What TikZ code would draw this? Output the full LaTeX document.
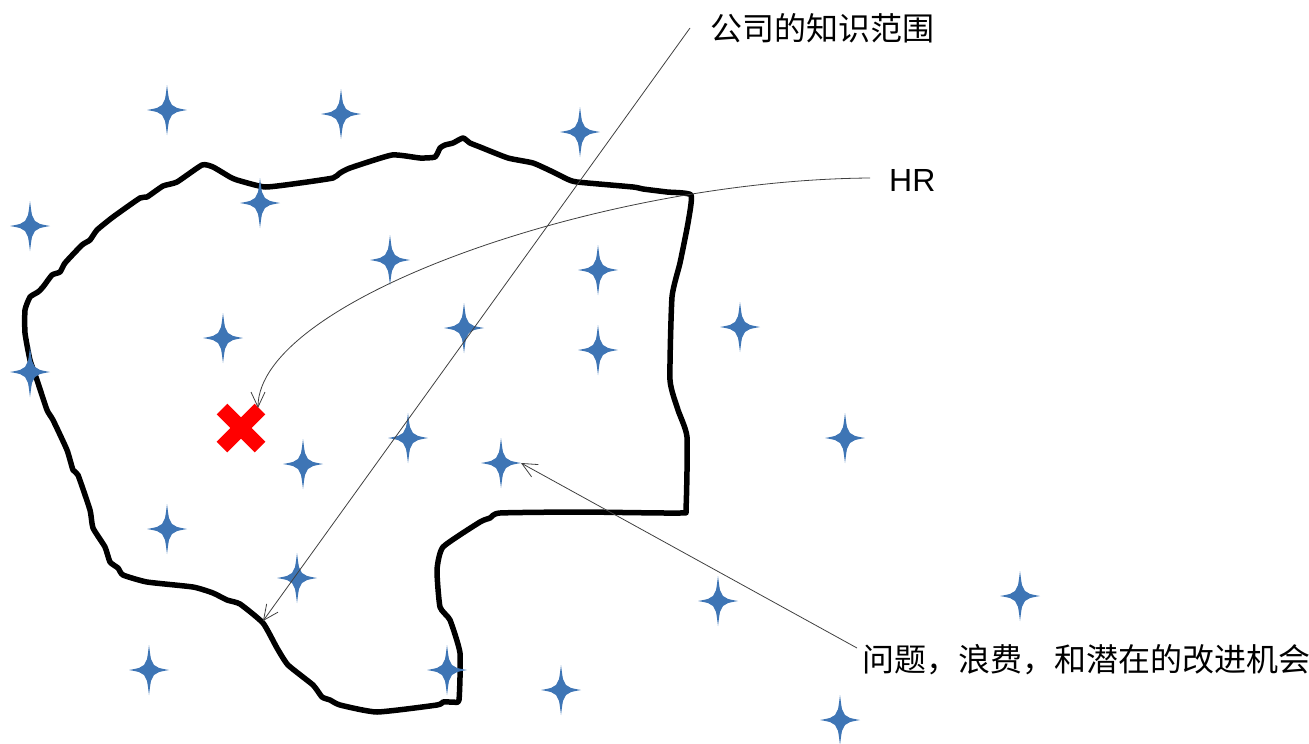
\documentclass[tikz,border=0pt]{standalone}
\usepackage{fontspec}
\setmainfont{Liberation Sans}
\newfontfamily\cjk{Noto Sans CJK SC}
\usetikzlibrary{arrows.meta}
\definecolor{starblue}{RGB}{62,117,181}

\begin{document}
\begin{tikzpicture}[x=1pt,y=-1pt,
  spark/.pic={\fill[starblue] (0,-25) .. controls (2,-9) .. (5,-5) .. controls (9,-2) .. (20,0)
     .. controls (9,2) .. (5,5) .. controls (2,9) .. (0,25) .. controls (-2,9) .. (-5,5)
     .. controls (-9,2) .. (-20,0) .. controls (-9,-2) .. (-5,-5) .. controls (-2,-9) .. cycle;},
  pointer/.style={draw=black!75,line width=0.8pt,-{Straight Barb[length=15pt,width=14pt,line width=0.8pt]}},
  note/.style={anchor=west,inner sep=0pt,font=\fontsize{32}{37}\selectfont}]
\useasboundingbox (0,0) rectangle (1309,744);

% knowledge area
\draw[line width=5.5pt,line join=round] plot[smooth cycle,tension=0.3] coordinates {
  (202,165) (213,167) (230,177) (237,180) (265,187) (300,183) (333,178) (340,173) (350,168)
  (392,155) (420,158) (435,157) (440,148) (445,145) (453,143) (463,138) (470,143) (480,147)
  (508,158) (533,163) (553,172) (567,179) (577,182) (633,187) (643,189) (667,192) (691,195)
  (688,223) (680,263) (672,297) (670,380) (678,410) (687,437) (686,508) (680,513) (580,512)
  (500,513) (490,518) (480,522) (443,547) (437,570) (440,607) (450,620) (460,653) (459,700)
  (453,702) (443,702) (437,705) (377,712) (340,705) (330,700) (322,697) (313,685) (288,665)
  (277,648) (263,623) (240,604) (227,600) (213,593) (193,587) (147,582) (123,575) (118,568)
  (110,562) (105,547) (93,528) (90,510) (78,475) (73,470) (67,450) (53,420) (47,410)
  (37,380) (30,360) (25,333) (25,310) (30,297) (38,292) (43,287) (52,275) (60,272)
  (65,263) (82,245) (90,240) (97,230) (113,217) (140,198) (147,197) (163,186) (177,182)};

% stars
\pic at (167,110) {spark};
\pic at (341,114) {spark};
\pic at (580,132) {spark};
\pic at (30,226) {spark};
\pic at (260,203) {spark};
\pic at (390,260) {spark};
\pic at (598,270) {spark};
\pic at (223,338) {spark};
\pic at (464,328) {spark};
\pic at (598,350) {spark};
\pic at (740,327) {spark};
\pic at (30,372) {spark};
\pic at (408,438) {spark};
\pic at (303,464) {spark};
\pic at (501,463) {spark};
\pic at (845,438) {spark};
\pic at (167,529) {spark};
\pic at (297,578) {spark};
\pic at (718,601) {spark};
\pic at (1020,596) {spark};
\pic at (149,670) {spark};
\pic at (447,670) {spark};
\pic at (561,690) {spark};
\pic at (840,720) {spark};

% HR mark
\draw[red,line width=15pt] (222,409) -- (260,447);
\draw[red,line width=15pt] (260,409) -- (222,447);

\node[note] (scope) at (710,28) {\cjk 公司的知识范围};
\node[note] (hr) at (889,180) {HR};
\node[note] (waste) at (862,660) {\cjk 问题，浪费，和潜在的改进机会};

\coordinate (edge) at (263,621);
\coordinate (cross) at (258,408);
\coordinate (spot) at (521,463);

\draw[pointer] ([xshift=-20pt]scope.west) -- (edge);
\draw[pointer] ([xshift=-19pt,yshift=2pt]hr.west) .. controls (600,180) and (258,300) .. (cross);
\draw[pointer] ([xshift=-5pt,yshift=12pt]waste.west) -- (spot);
\end{tikzpicture}
\end{document}
